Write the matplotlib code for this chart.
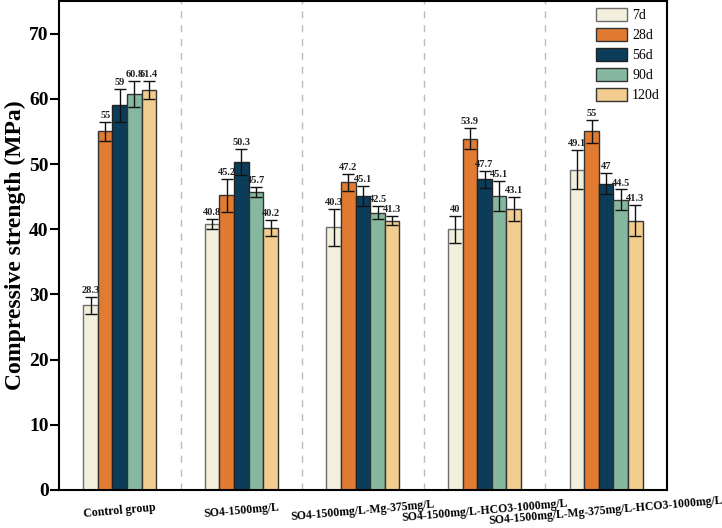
import numpy as np
import matplotlib
matplotlib.use('Agg')
import matplotlib.pyplot as plt

plt.rcParams['font.family'] = ['Liberation Serif', 'DejaVu Serif']

groups = ['Control group', 'SO4-1500mg/L', 'SO4-1500mg/L-Mg-375mg/L',
          'SO4-1500mg/L-HCO3-1000mg/L', 'SO4-1500mg/L-Mg-375mg/L-HCO3-1000mg/L']
ages = ['7d', '28d', '56d', '90d', '120d']

s_7d = [28.3, 40.8, 40.3, 40.0, 49.1]
s_28d = [55.0, 45.2, 47.2, 53.9, 55.0]
s_56d = [59.0, 50.3, 45.1, 47.7, 47.0]
s_90d = [60.8, 45.7, 42.5, 45.1, 44.5]
s_120d = [61.4, 40.2, 41.3, 43.1, 41.3]

e_7d = [1.3, 0.8, 2.8, 2.1, 3.0]
e_28d = [1.5, 2.5, 1.3, 1.6, 1.8]
e_56d = [2.5, 2.0, 1.6, 1.3, 1.6]
e_90d = [2.0, 0.8, 1.0, 2.3, 1.6]
e_120d = [1.4, 1.2, 0.7, 1.9, 2.4]

values = [s_7d, s_28d, s_56d, s_90d, s_120d]
errors = [e_7d, e_28d, e_56d, e_90d, e_120d]
colors = ['#F3EFDD', '#E07B31', '#0B3D5A', '#86B8A0', '#F2CD8F']
edges = ['#6E6E6E', '#333333', '#222222', '#333333', '#333333']

fig = plt.figure(figsize=(7.22, 5.28), dpi=100)
ax = fig.add_axes([0.0817, 0.072, 0.842, 0.926])

x = np.arange(len(groups))
w = 0.12
for i in range(len(ages)):
    xi = x + (i - 2) * w
    ax.bar(xi, values[i], w, color=colors[i], edgecolor=edges[i], linewidth=1.0,
           label=ages[i], zorder=2)
    ax.errorbar(xi, values[i], yerr=errors[i], fmt='none', ecolor='#111111',
                elinewidth=1.0, capsize=4, capthick=1.0, zorder=3)
    for xx, v, e in zip(xi, values[i], errors[i]):
        ax.text(xx, v + e + 0.3, f'{v:g}', ha='center', va='bottom',
                fontsize=7.5, fontweight='bold', color='#222222')

for b in [0.5, 1.5, 2.5, 3.5]:
    ax.axvline(b, color='#BBBBBB', linestyle=(0, (5, 5)), linewidth=1.0, zorder=1)

ax.set_xlim(-0.5, 4.5)
ax.set_ylim(0, 75)
ax.set_yticks(np.arange(0, 71, 10))
ax.set_xticks(x)
ax.set_xticklabels(groups, rotation=5, ha='center', va='center',
                   rotation_mode='anchor', fontsize=8.5, fontweight='bold')
ax.tick_params(axis='x', length=0, pad=15)
ax.tick_params(axis='y', direction='out', length=6.5, width=1.5, labelsize=14, pad=1)
for lab in ax.get_yticklabels():
    lab.set_fontweight('bold')
for sp in ax.spines.values():
    sp.set_linewidth(1.5)

ax.set_ylabel('Compressive strength (MPa)', fontsize=17, fontweight='bold', labelpad=2)

ax.legend(loc='upper right', frameon=False, fontsize=10, handlelength=2.2,
          handleheight=1.1, labelspacing=0.4, handletextpad=0.4,
          borderaxespad=0.1)

fig.savefig('out.png', dpi=100)
